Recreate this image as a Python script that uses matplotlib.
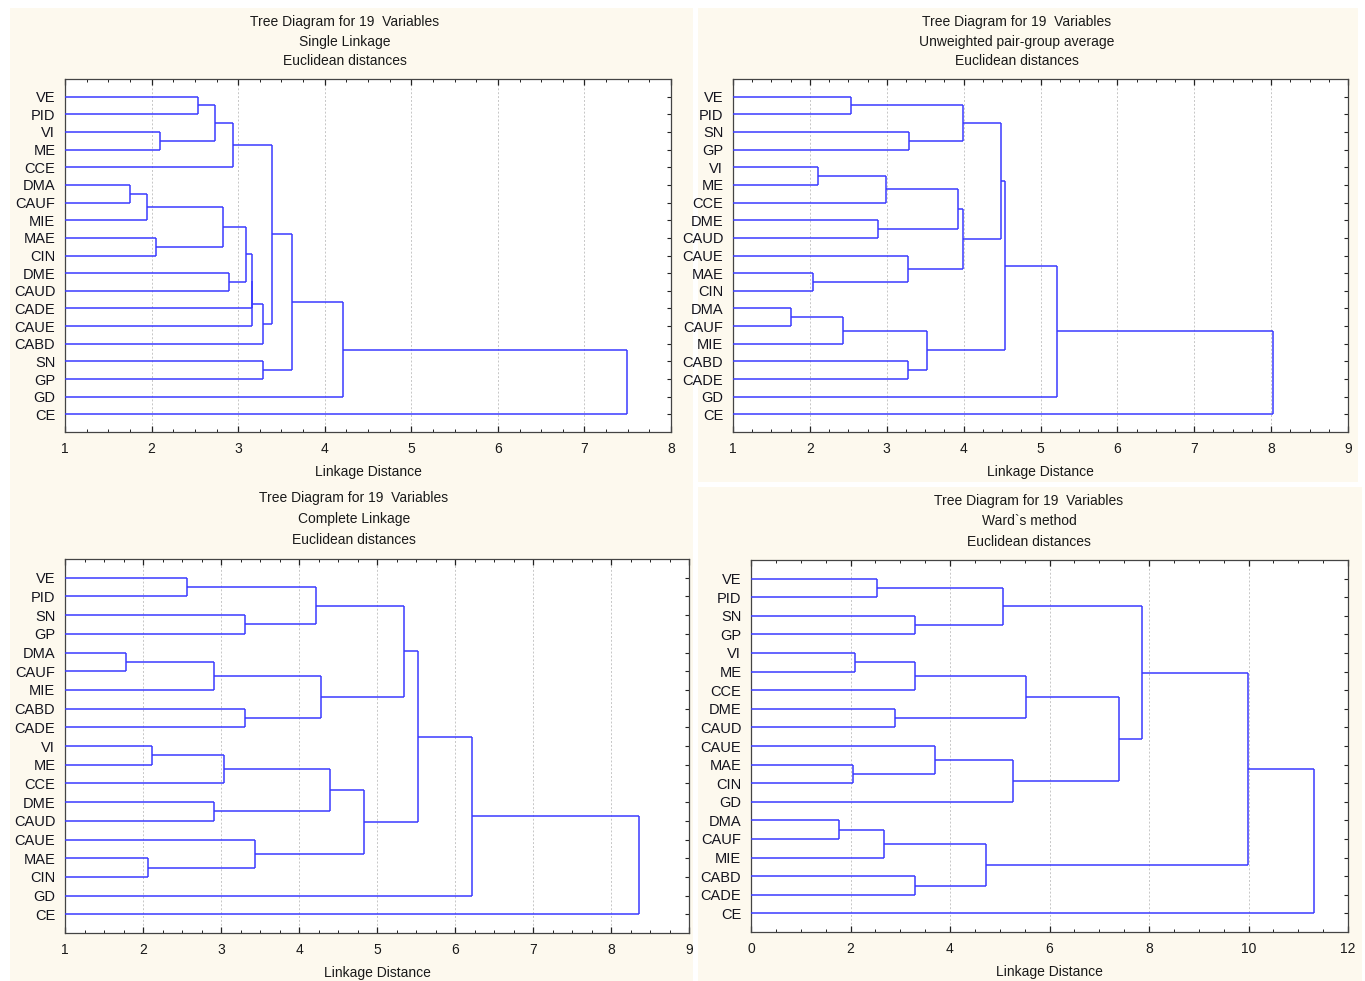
import matplotlib
matplotlib.use('Agg')
import matplotlib.pyplot as plt
from matplotlib.patches import Rectangle
from matplotlib.ticker import MultipleLocator

plt.rcParams['font.family'] = ['Liberation Sans', 'DejaVu Sans']

# ---- data: leaf order (top to bottom) and merges (child a, child b, linkage distance)
# child ids < 19 are leaves, id 19 + k is the cluster made by merge k
labels_single = ["VE", "PID", "VI", "ME", "CCE", "DMA", "CAUF", "MIE", "MAE", "CIN",
                 "DME", "CAUD", "CADE", "CAUE", "CABD", "SN", "GP", "GD", "CE"]
merges_single = [(0, 1, 2.54), (2, 3, 2.10), (19, 20, 2.73), (21, 4, 2.94),
                 (5, 6, 1.75), (23, 7, 1.95), (8, 9, 2.05), (24, 25, 2.82),
                 (10, 11, 2.89), (26, 27, 3.09), (28, 12, 3.16), (29, 13, 3.16),
                 (30, 14, 3.29), (22, 31, 3.39), (15, 16, 3.29), (32, 33, 3.62),
                 (34, 17, 4.21), (35, 18, 7.49)]

labels_avg = ["VE", "PID", "SN", "GP", "VI", "ME", "CCE", "DME", "CAUD", "CAUE",
              "MAE", "CIN", "DMA", "CAUF", "MIE", "CABD", "CADE", "GD", "CE"]
merges_avg = [(0, 1, 2.54), (2, 3, 3.29), (19, 20, 3.99), (4, 5, 2.10),
              (22, 6, 2.99), (7, 8, 2.89), (23, 24, 3.93), (10, 11, 2.04),
              (9, 26, 3.28), (25, 27, 3.99), (21, 28, 4.48), (12, 13, 1.76),
              (30, 14, 2.43), (15, 16, 3.28), (31, 32, 3.53), (29, 33, 4.54),
              (34, 17, 5.21), (35, 18, 8.02)]

labels_complete = ["VE", "PID", "SN", "GP", "DMA", "CAUF", "MIE", "CABD", "CADE", "VI",
                   "ME", "CCE", "DME", "CAUD", "CAUE", "MAE", "CIN", "GD", "CE"]
merges_complete = [(0, 1, 2.56), (2, 3, 3.31), (19, 20, 4.22), (4, 5, 1.78),
                   (22, 6, 2.91), (7, 8, 3.31), (23, 24, 4.28), (21, 25, 5.34),
                   (9, 10, 2.11), (27, 11, 3.04), (12, 13, 2.91), (28, 29, 4.40),
                   (15, 16, 2.06), (14, 31, 3.43), (30, 32, 4.83), (26, 33, 5.53),
                   (34, 17, 6.22), (35, 18, 8.36)]

labels_ward = ["VE", "PID", "SN", "GP", "VI", "ME", "CCE", "DME", "CAUD", "CAUE",
               "MAE", "CIN", "GD", "DMA", "CAUF", "MIE", "CABD", "CADE", "CE"]
merges_ward = [(0, 1, 2.54), (2, 3, 3.29), (19, 20, 5.06), (4, 5, 2.10),
               (22, 6, 3.29), (7, 8, 2.89), (23, 24, 5.53), (10, 11, 2.05),
               (9, 26, 3.70), (27, 12, 5.27), (25, 28, 7.39), (21, 29, 7.85),
               (13, 14, 1.76), (31, 15, 2.67), (16, 17, 3.29), (32, 33, 4.73),
               (30, 34, 9.99), (35, 18, 11.32)]

title_main = "Tree Diagram for 19  Variables"
methods = ["Single Linkage", "Unweighted pair-group average", "Complete Linkage", "Ward`s method"]

W, H = 1365, 981
LINE = '#3a3aff'
CREAM = '#fdf9ee'

fig = plt.figure(figsize=(W / 100, H / 100), dpi=100, facecolor='white')

for (x1, y1, x2, y2) in [(10, 8, 693, 484), (698, 8, 1358, 482),
                         (10, 484, 693, 981), (698, 487, 1362, 981)]:
    fig.patches.append(Rectangle((x1 / W, 1 - y2 / H), (x2 - x1) / W, (y2 - y1) / H,
                                 transform=fig.transFigure, facecolor=CREAM,
                                 edgecolor='none', zorder=-10))


def px_axes(l, t, r, b):
    return fig.add_axes([l / W, 1 - b / H, (r - l) / W, (b - t) / H])


def draw_tree(ax, labels, merges, xmin, xmax, major, minor):
    n = len(labels)
    ypos = list(range(n))
    xpos = [xmin] * n
    for a, b, h in merges:
        for c in (a, b):
            ax.plot([xpos[c], h], [ypos[c], ypos[c]], color=LINE, lw=1.1,
                    solid_capstyle='butt', zorder=3)
        ax.plot([h, h], [ypos[a], ypos[b]], color=LINE, lw=1.1,
                solid_capstyle='butt', zorder=3)
        ypos.append((ypos[a] + ypos[b]) / 2)
        xpos.append(h)

    ax.set_xlim(xmin, xmax)
    ax.set_ylim(n, -1)
    ax.set_yticks(range(n))
    ax.set_yticklabels(labels, fontsize=10.5, color='#14141e')
    ax.xaxis.set_major_locator(MultipleLocator(major))
    ax.xaxis.set_minor_locator(MultipleLocator(minor))
    ax.tick_params(axis='x', which='both', direction='in', top=True, bottom=True,
                   labelsize=10, pad=7, color='#222222', labelcolor='#1a1a1a')
    ax.tick_params(axis='x', which='major', length=4, width=0.9)
    ax.tick_params(axis='x', which='minor', length=2.5, width=0.7)
    ax.tick_params(axis='y', direction='in', left=False, right=True, length=3,
                   width=0.8, pad=7, color='#222222')
    ax.grid(axis='x', which='major', linestyle=(0, (2, 2)), color='#c6c6c6', lw=0.7)
    ax.set_axisbelow(True)
    for s in ax.spines.values():
        s.set_color('#444444')
        s.set_linewidth(0.9)
    ax.set_xlabel("Linkage Distance", fontsize=10, labelpad=7, color='#1a1a1a')


panels = [
    ((65, 79, 671, 432), labels_single, merges_single, 1, 8, 1, 0.25, 345, [22, 42, 61]),
    ((733, 79, 1348, 432), labels_avg, merges_avg, 1, 9, 1, 0.25, 1017, [22, 42, 61]),
    ((65, 559, 689, 933), labels_complete, merges_complete, 1, 9, 1, 0.25, 354, [498, 519, 540]),
    ((751, 560, 1348, 932), labels_ward, merges_ward, 0, 12, 2, 0.5, 1029, [501, 521, 542]),
]

for (box, labs, mrg, xmin, xmax, major, minor, tx, tys), method in zip(panels, methods):
    ax = px_axes(*box)
    draw_tree(ax, labs, mrg, xmin, xmax, major, minor)
    for txt, ty in zip([title_main, method, "Euclidean distances"], tys):
        fig.text(tx / W, 1 - ty / H, txt, ha='center', va='center', fontsize=10,
                 color='#1a1a1a')

fig.savefig('out.png', dpi=100, facecolor=fig.get_facecolor())
